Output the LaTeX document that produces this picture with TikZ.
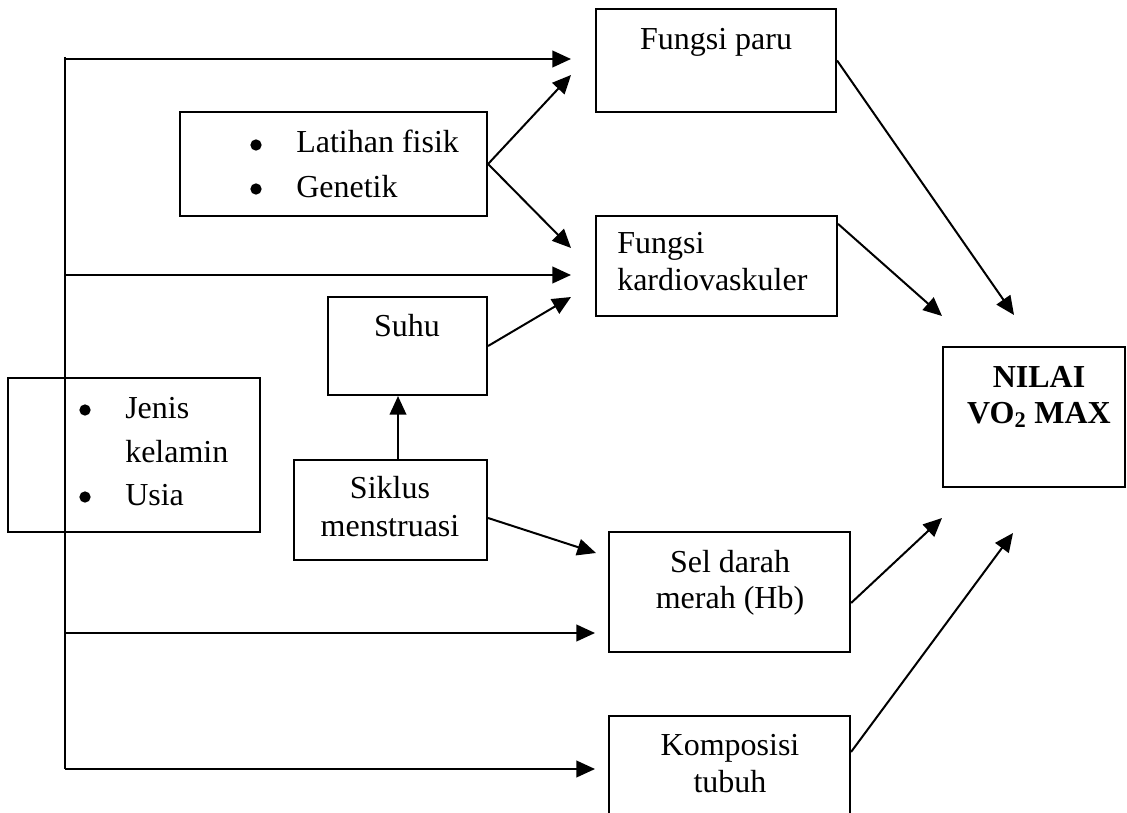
\documentclass[tikz,border=0pt]{standalone}
\usepackage{fontspec}
\setmainfont{Liberation Serif}
\usetikzlibrary{arrows.meta,fit}
\begin{document}
\begin{tikzpicture}[x=0.75pt,y=-0.75pt,
  box/.style={draw, line width=1.6pt, inner sep=0pt},
  txt/.style={font=\fontsize{24}{27.75}\selectfont, inner sep=0pt},
  btxt/.style={txt, font=\fontsize{24}{27.75}\selectfont\bfseries},
  dot/.style={circle, fill, inner sep=0pt, minimum size=8.5pt},
  arr/.style={line width=1.5pt, -{Triangle[length=14pt,width=12.5pt]}},
  ln/.style={line width=1.5pt}]
\clip (0,0) rectangle (1127,813);
\fill[white] (0,0) rectangle (1127,813);

% boxes
\node[box, fit={(596,9)(836,112)}] (paru) {};
\node[box, fit={(180,112)(487,216)}] (latihan) {};
\node[box, fit={(596,216)(837,316)}] (kardio) {};
\node[box, fit={(328,297)(487,395)}] (suhu) {};
\node[box, fit={(8,378)(260,532)}] (jenis) {};
\node[box, fit={(294,460)(487,560)}] (siklus) {};
\node[box, fit={(609,532)(850,652)}] (sel) {};
\node[box, fit={(609,716)(850,830)}] (komp) {};
\node[box, fit={(943,347)(1125,487)}] (nilai) {};

% texts
\node[txt, anchor=base] (tparu) at (716,50) {Fungsi paru};
\node[dot] (bl1) at (256,145) {};
\node[txt, anchor=base west] (tl1) at (296,153) {Latihan fisik};
\node[dot] (bl2) at (256,189) {};
\node[txt, anchor=base west] (tl2) at (296,197) {Genetik};
\node[txt, anchor=base west] (tk1) at (617,253) {Fungsi};
\node[txt, anchor=base west] (tk2) at (617,290) {kardiovaskuler};
\node[txt, anchor=base] (tsuhu) at (407,336) {Suhu};
\node[dot] (bj1) at (85,410) {};
\node[txt, anchor=base west] (tj1) at (125,418) {Jenis};
\node[txt, anchor=base west] (tj2) at (125,462) {kelamin};
\node[dot] (bj2) at (85,497) {};
\node[txt, anchor=base west] (tj3) at (125,505) {Usia};
\node[txt, anchor=base] (ts1) at (390,498) {Siklus};
\node[txt, anchor=base] (ts2) at (390,536) {menstruasi};
\node[txt, anchor=base] (tsel1) at (730,572) {Sel darah};
\node[txt, anchor=base] (tsel2) at (730,608) {merah (Hb)};
\node[txt, anchor=base] (tk3) at (730,755) {Komposisi};
\node[txt, anchor=base] (tk4) at (730,792) {tubuh};
\node[btxt, anchor=base] (tn1) at (1039,387) {NILAI};
\node[btxt, anchor=base] (tn2) at (1039,423) {VO\textsubscript{2} MAX};

% trunk
\coordinate (ttop) at (65,57);
\coordinate (tbot) at (65,769);
\draw[ln] (ttop) -- (tbot);

\coordinate (e1) at (571,59);
\coordinate (e2) at (571,275);
\coordinate (e3) at (595,633);
\coordinate (e4) at (595,769);
\draw[arr] (e1 -| ttop) -- (e1);
\draw[arr] (e2 -| ttop) -- (e2);
\draw[arr] (e3 -| ttop) -- (e3);
\draw[arr] (e4 -| ttop) -- (e4);

\coordinate (e5) at (571,75);
\coordinate (e6) at (571,248);
\draw[arr] (latihan.east) -- (e5);
\draw[arr] (latihan.east) -- (e6);

\coordinate (e7) at (571,297);
\draw[arr] (suhu.east) -- (e7);

\coordinate (mx) at (398,0);
\draw[arr] (siklus.north -| mx) -- (suhu.south -| mx);

\coordinate (e8) at (596,553);
\draw[arr] ([yshift=-6pt]siklus.east) -- (e8);

\coordinate (n1) at (1014,315);
\coordinate (n2) at (942,316);
\coordinate (n3) at (942,518);
\coordinate (n4) at (1013,533);
\draw[arr] (paru.east) -- (n1);
\draw[arr] ([yshift=-6.75pt]kardio.north east) -- (n2);
\draw[arr] ([yshift=-8.25pt]sel.east) -- (n3);
\draw[arr] ([yshift=-27.75pt]komp.north east) -- (n4);
\end{tikzpicture}
\end{document}
